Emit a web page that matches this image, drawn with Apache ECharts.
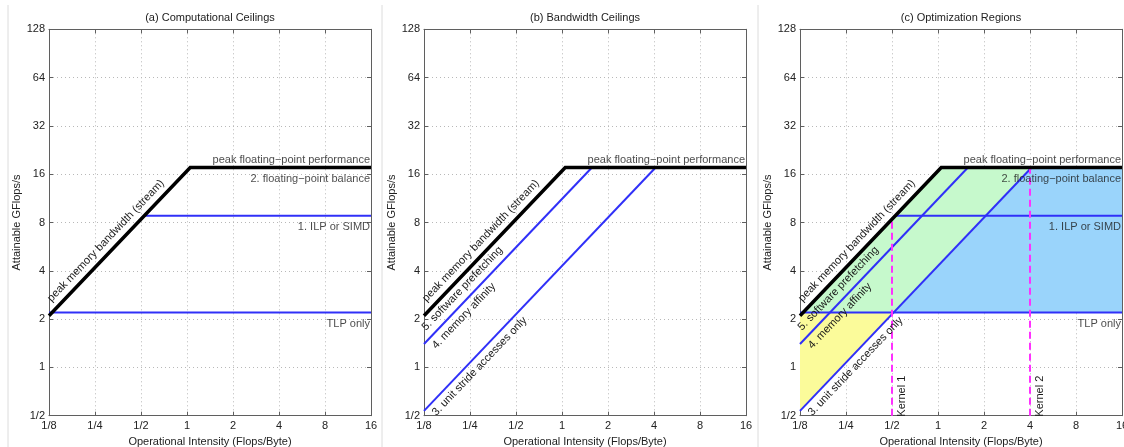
<!DOCTYPE html>
<html><head><meta charset="utf-8">
<script src="https://cdn.jsdelivr.net/npm/echarts@6/dist/echarts.min.js"></script>
<style>html,body{margin:0;padding:0;background:#fff}#c{width:1124px;height:447px}</style>
</head><body><div id="c"></div>
<script>
// ---- data ----
const xTickLabels = ['1/8','1/4','1/2','1','2','4','8','16'];
const yTickLabels = ['1/2','1','2','4','8','16','32','64','128'];
const panelTitles = ['(a) Computational Ceilings','(b) Bandwidth Ceilings','(c) Optimization Regions'];
const roofX = [0.125, 1.05, 16];
const roofY = [2.1, 17.6, 17.6];
const ilpX = [0.524, 16];
const ilpY = [8.8, 8.8];
const tlpX = [0.125, 16];
const tlpY = [2.2, 2.2];
const prefetchX = [0.125, 1.57];
const prefetchY = [1.4, 17.6];
const strideX = [0.125, 4.1];
const strideY = [0.536, 17.6];
const kernelX = [0.5, 4.0];
const kernelBottomY = [0.5, 0.5];
const kernelTopY = [8.4, 17.6];
const kernelNames = ['Kernel 1', 'Kernel 2'];
const yellowX = [0.125, 0.513, 0.125];
const yellowY = [2.2, 2.2, 0.536];
const greenX = [0.131, 1.05, 4.1, 0.513];
const greenY = [2.2, 17.6, 17.6, 2.2];
const blueX = [0.513, 4.1, 16, 16];
const blueY = [2.2, 17.6, 17.6, 2.2];
const labelPeakFP = 'peak floating\u2212point performance';
const labelBalance = '2. floating\u2212point balance';
const labelILP = '1. ILP or SIMD';
const labelTLP = 'TLP only';
const labelBW = 'peak memory bandwidth (stream)';
const labelPrefetch = '5. software prefetching';
const labelAffinity = '4. memory affinity';
const labelStride = '3. unit stride accesses only';

// ---- layout ----
const FONT = "'Liberation Sans', Arial, Helvetica, sans-serif";
const L = Math.log2;
const gridLeft = [49, 424, 800];
const GT = 29.3, GW = 322, GH = 386.4;
const BLUE = '#3030f8', BLACK = '#000', MAG = '#ff30ff';
const TXT = '#1a1a1a';

const pts = (xs, ys) => xs.map((x, j) => [L(x), L(ys[j])]);
function yAt(xs, ys, x) {
  for (let j = 0; j < xs.length - 1; j++) {
    if (x >= xs[j] && x <= xs[j + 1]) {
      const t = (L(x) - L(xs[j])) / (L(xs[j + 1]) - L(xs[j]));
      return L(ys[j]) + t * (L(ys[j + 1]) - L(ys[j]));
    }
  }
  return L(ys[0]);
}

const grid = gridLeft.map(l => ({ left: l, top: GT, width: GW, height: GH, containLabel: false, outerBoundsMode: 'none' }));
const frame = '#5f5f5f';
const xAxis = [], yAxis = [];
for (let i = 0; i < 3; i++) {
  xAxis.push({
    type: 'value', gridIndex: i, min: -3, max: 4, interval: 1, position: 'bottom',
    axisLine: { show: true, onZero: false, lineStyle: { color: frame, width: 1 } },
    axisTick: { show: true, inside: true, length: 4, lineStyle: { color: frame } },
    axisLabel: { formatter: v => xTickLabels[v + 3], color: '#222', fontSize: 11, fontFamily: FONT, margin: 5 },
    splitLine: { show: true, lineStyle: { type: [1, 3], color: '#b8b8b8', width: 1 } },
    name: 'Operational Intensity (Flops/Byte)', nameLocation: 'middle', nameGap: 15,
    nameTextStyle: { color: '#222', fontSize: 11, fontFamily: FONT }
  });
  yAxis.push({
    type: 'value', gridIndex: i, min: -1, max: 7, interval: 1, position: 'left',
    axisLine: { show: true, onZero: false, lineStyle: { color: frame, width: 1 } },
    axisTick: { show: true, inside: true, length: 4, lineStyle: { color: frame } },
    axisLabel: { formatter: v => yTickLabels[v + 1], color: '#222', fontSize: 11, fontFamily: FONT, margin: 4 },
    splitLine: { show: true, lineStyle: { type: [1, 3], color: '#b8b8b8', width: 1 } },
    name: 'Attainable GFlops/s', nameLocation: 'middle', nameGap: 20,
    nameTextStyle: { color: '#222', fontSize: 11, fontFamily: FONT }
  });
}
for (let i = 0; i < 3; i++) {
  xAxis.push({
    type: 'value', gridIndex: i, min: -3, max: 4, interval: 1, position: 'top',
    axisLine: { show: true, onZero: false, lineStyle: { color: frame, width: 1 } },
    axisTick: { show: true, inside: true, length: 4, lineStyle: { color: frame } },
    axisLabel: { show: false }, splitLine: { show: false }
  });
  yAxis.push({
    type: 'value', gridIndex: i, min: -1, max: 7, interval: 1, position: 'right',
    axisLine: { show: true, onZero: false, lineStyle: { color: frame, width: 1 } },
    axisTick: { show: true, inside: true, length: 4, lineStyle: { color: frame } },
    axisLabel: { show: false }, splitLine: { show: false }
  });
}

const series = [];
function line(i, xs, ys, color, width, z, dash) {
  series.push({
    type: 'line', xAxisIndex: i, yAxisIndex: i, data: pts(xs, ys), showSymbol: false, symbol: 'none',
    silent: true, z: z, clip: true,
    lineStyle: { color: color, width: width, type: dash || 'solid', cap: 'butt', join: 'miter' }
  });
}
function poly(i, xs, ys, color) {
  const p = pts(xs, ys);
  series.push({
    type: 'custom', xAxisIndex: i, yAxisIndex: i, silent: true, z: 1, clip: true,
    data: [p[0]],
    renderItem: (params, api) => ({
      type: 'polygon', shape: { points: p.map(q => api.coord(q)) }, style: { fill: color }
    })
  });
}

// Fills (panel c)
poly(2, yellowX, yellowY, '#fbfb9a');
poly(2, greenX, greenY, '#c6f9cc');
poly(2, blueX, blueY, '#9ad4fb');

// Panel a
line(0, tlpX, tlpY, BLUE, 2, 3);
line(0, ilpX, ilpY, BLUE, 2, 3);
line(0, roofX, roofY, BLACK, 3.5, 5);
// Panel b
line(1, prefetchX, prefetchY, BLUE, 2, 3);
line(1, strideX, strideY, BLUE, 2, 3);
line(1, roofX, roofY, BLACK, 3.5, 5);
// Panel c
line(2, tlpX, tlpY, BLUE, 2, 3);
line(2, ilpX, ilpY, BLUE, 2, 3);
line(2, prefetchX, prefetchY, BLUE, 2, 3);
line(2, strideX, strideY, BLUE, 2, 3);
kernelX.forEach((k, j) => line(2, [k, k], [kernelBottomY[j], kernelTopY[j]], MAG, 2, 4, [7, 4]));
line(2, roofX, roofY, BLACK, 3.5, 5);

// Horizontal ceiling labels (scatter labels anchored at data coords)
const hLabels = [];
const above = { align: 'right', verticalAlign: 'bottom', offset: [-1, -2] };
const below = { align: 'right', verticalAlign: 'top', offset: [-1, 6] };
for (let i = 0; i < 3; i++) hLabels.push({ i, text: labelPeakFP, v: [L(16), L(roofY[2])], o: above });
[0, 2].forEach(i => {
  hLabels.push({ i, text: labelBalance, v: [L(16), L(roofY[2])], o: below });
  hLabels.push({ i, text: labelILP, v: [L(16), L(ilpY[1])], o: below });
  hLabels.push({ i, text: labelTLP, v: [L(16), L(tlpY[1])], o: below });
});
for (let i = 0; i < 3; i++) {
  series.push({
    type: 'scatter', xAxisIndex: i, yAxisIndex: i, symbolSize: 0, silent: true, z: 10, clip: false,
    itemStyle: { color: 'transparent' },
    data: hLabels.filter(d => d.i === i).map(d => ({
      value: d.v,
      label: Object.assign({ show: true, position: 'inside', formatter: d.text, color: TXT, fontSize: 11, fontFamily: FONT }, d.o)
    }))
  });
}

const chart = echarts.init(document.getElementById('c'), null, { renderer: 'canvas' });
chart.setOption({
  animation: false,
  backgroundColor: '#fff',
  title: panelTitles.map((t, i) => ({
    text: t, left: gridLeft[i] + GW / 2, top: 12, textAlign: 'center', padding: 0,
    textStyle: { fontSize: 11, fontWeight: 'normal', color: '#222', fontFamily: FONT }
  })),
  grid, xAxis, yAxis, series
});

// Sloped and vertical labels placed with the library's own coordinate conversion
const toPx = (i, x, yLog) => chart.convertToPixel({ xAxisIndex: i, yAxisIndex: i }, [L(x), yLog]);
const p0 = toPx(0, roofX[0], L(roofY[0])), p1 = toPx(0, roofX[1], L(roofY[1]));
const TH = Math.atan2(p0[1] - p1[1], p1[0] - p0[0]);
const up = [-Math.sin(TH), -Math.cos(TH)];
const texts = [];
function slope(i, text, xs, ys, x, shift, vAlign) {
  const p = toPx(i, x, yAt(xs, ys, x));
  texts.push({
    type: 'text', x: p[0] + up[0] * shift, y: p[1] + up[1] * shift, rotation: TH, silent: true, z: 100,
    style: { text, fill: TXT, font: '11px ' + FONT, align: 'left', verticalAlign: vAlign, textAlign: 'left', textVerticalAlign: vAlign }
  });
}
for (let i = 0; i < 3; i++) slope(i, labelBW, roofX, roofY, 0.141, 5, 'bottom');
[1, 2].forEach(i => {
  slope(i, labelPrefetch, prefetchX, prefetchY, 0.14, 5, 'bottom');
  slope(i, labelAffinity, prefetchX, prefetchY, 0.131, -4, 'top');
  slope(i, labelStride, strideX, strideY, 0.131, -4, 'top');
});
kernelX.forEach((k, j) => {
  const p = toPx(2, k, L(kernelBottomY[j]));
  texts.push({
    type: 'text', x: p[0] + 4, y: p[1] + 1, rotation: Math.PI / 2, silent: true, z: 100,
    style: { text: kernelNames[j], fill: TXT, font: '11px ' + FONT, align: 'left', verticalAlign: 'top', textAlign: 'left', textVerticalAlign: 'top' }
  });
});
const seps = [8, 382, 758].map(x => ({
  type: 'line', shape: { x1: x, y1: 5, x2: x, y2: 447 }, style: { stroke: '#dcdcdc', lineWidth: 1 }, silent: true
}));
chart.setOption({ graphic: seps.concat(texts) });
</script></body></html>
